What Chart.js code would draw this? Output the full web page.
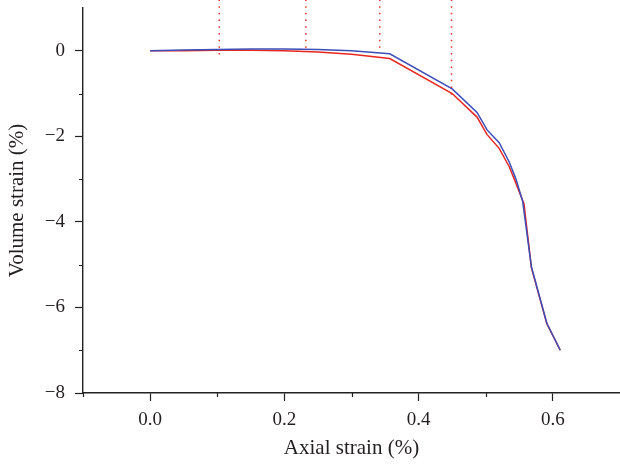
<!DOCTYPE html>
<html>
<head>
<meta charset="utf-8">
<style>
  html, body { margin: 0; padding: 0; background: #fff; }
  #wrap { width: 620px; height: 466px; }
</style>
<script src="https://cdn.jsdelivr.net/npm/chart.js@4/dist/chart.umd.min.js"></script>
</head>
<body>
<div id="wrap"><canvas id="strainChart"></canvas></div>
<script>
// values
const blueX = [0, 0.05, 0.1, 0.15, 0.2, 0.25, 0.3, 0.357, 0.45, 0.487, 0.502, 0.52, 0.535, 0.545, 0.555, 0.568, 0.591, 0.611];
const blueY = [0, 0.02, 0.03, 0.04, 0.04, 0.03, 0.0, -0.07, -0.89, -1.44, -1.85, -2.15, -2.6, -3.0, -3.52, -5.05, -6.37, -7.0];
const redX = [0, 0.05, 0.1, 0.15, 0.2, 0.25, 0.3, 0.357, 0.45, 0.487, 0.502, 0.52, 0.535, 0.545, 0.557, 0.568, 0.591, 0.611];
const redY = [0, 0.0, 0.01, 0.01, 0.0, -0.03, -0.08, -0.18, -1.0, -1.55, -1.96, -2.28, -2.71, -3.1, -3.58, -5.07, -6.38, -7.0];

// dotted stage markers
const markerX = [0.103, 0.232, 0.342, 0.449];
const markerTop = [1.2, 1.2, 1.2, 1.2];
const markerBottom = [-0.1, -0.05, -0.05, -1.1];

const xTicks = [0, 0.2, 0.4, 0.6];
const xMinorTicks = [-0.1, 0.1, 0.3, 0.5];
const yTicks = [-8, -6, -4, -2, 0];
const yMinorTicks = [-7, -5, -3, -1];

const toPoints = (xs, ys) => xs.map((x, i) => ({ x: x, y: ys[i] }));

const datasets = [];
markerX.forEach((x, i) => {
    datasets.push({
        data: [{ x: x, y: markerTop[i] }, { x: x, y: markerBottom[i] }],
        borderColor: '#f0302a',
        borderWidth: 1.5,
        borderDash: [1.5, 5.2],
        pointRadius: 0,
        clip: false
    });
});
datasets.push({
    data: toPoints(blueX, blueY),
    borderColor: '#3c4eb8',
    borderWidth: 1.5,
    pointRadius: 0,
    tension: 0
});
datasets.push({
    data: toPoints(redX, redY),
    borderColor: '#e8271f',
    borderWidth: 1.5,
    pointRadius: 0,
    tension: 0
});

// short minor ticks, Chart.js only has one tick length
const minorTicks = {
    id: 'minorTicks',
    afterDraw(chart) {
        const ctx = chart.ctx;
        const xs = chart.scales.x, ys = chart.scales.y;
        ctx.save();
        ctx.strokeStyle = '#222';
        ctx.lineWidth = 1.2;
        ctx.beginPath();
        xMinorTicks.forEach(v => {
            const px = Math.round(xs.getPixelForValue(v)) + 0.5;
            ctx.moveTo(px, ys.bottom);
            ctx.lineTo(px, ys.bottom + 4);
        });
        yMinorTicks.forEach(v => {
            const py = Math.round(ys.getPixelForValue(v)) + 0.5;
            ctx.moveTo(xs.left - 4, py);
            ctx.lineTo(xs.left, py);
        });
        ctx.stroke();
        ctx.restore();
    }
};

const serif = "'Liberation Serif', 'DejaVu Serif', serif";

new Chart(document.getElementById('strainChart'), {
    type: 'line',
    data: { datasets: datasets },
    plugins: [minorTicks],
    options: {
        responsive: true,
        maintainAspectRatio: false,
        animation: false,
        layout: { padding: { top: 8, right: 0, left: 0, bottom: 0 } },
        plugins: {
            legend: { display: false },
            tooltip: { enabled: false }
        },
        scales: {
            x: {
                type: 'linear',
                min: -0.1,
                max: 0.7,
                afterBuildTicks: s => { s.ticks = xTicks.map(v => ({ value: v })); },
                afterFit: s => { s.height = 73; s.paddingLeft = 0; s.paddingRight = 0; },
                grid: { drawOnChartArea: false, tickLength: 8, tickColor: '#222', tickWidth: 1.2 },
                border: { color: '#222', width: 1.4 },
                ticks: {
                    color: '#231f20',
                    font: { family: serif, size: 19 },
                    padding: 8,
                    maxRotation: 0,
                    callback: v => v.toFixed(1)
                },
                title: {
                    display: true,
                    text: 'Axial strain (%)',
                    color: '#231f20',
                    font: { family: serif, size: 21 },
                    padding: { top: 0, bottom: 5 }
                }
            },
            y: {
                type: 'linear',
                min: -8,
                max: 1,
                afterBuildTicks: s => { s.ticks = yTicks.map(v => ({ value: v })); },
                afterFit: s => { s.width = 83; s.paddingTop = 0; s.paddingBottom = 0; },
                grid: { drawOnChartArea: false, tickLength: 8, tickColor: '#222', tickWidth: 1.2 },
                border: { color: '#222', width: 1.4 },
                ticks: {
                    color: '#231f20',
                    font: { family: serif, size: 19 },
                    padding: 10,
                    callback: v => (v < 0 ? '\u2212' + Math.abs(v) : String(v))
                },
                title: {
                    display: true,
                    text: 'Volume strain (%)',
                    color: '#231f20',
                    font: { family: serif, size: 21 },
                    padding: { top: 5, bottom: 0 }
                }
            }
        }
    }
});
</script>
</body>
</html>
